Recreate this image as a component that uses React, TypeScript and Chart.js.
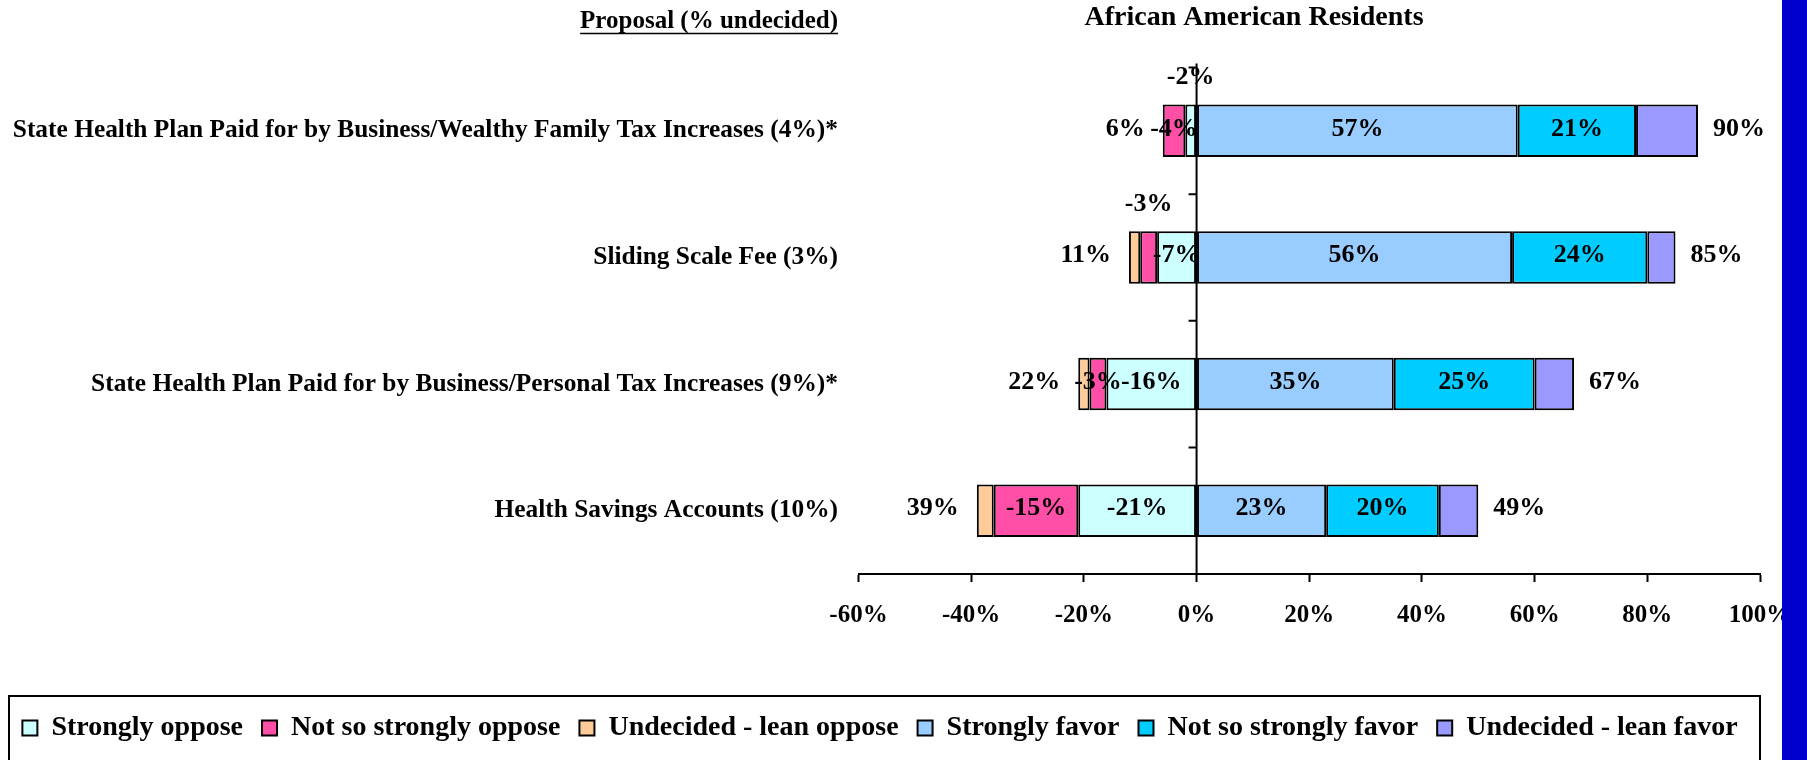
import React, { useEffect, useRef } from 'react';
import { Chart, registerables } from 'chart.js';

Chart.register(...registerables);

// ---------- data ----------
const categories = [
  'State Health Plan Paid for by Business/Wealthy Family Tax Increases (4%)*',
  'Sliding Scale Fee (3%)',
  'State Health Plan Paid for by Business/Personal Tax Increases (9%)*',
  'Health Savings Accounts (10%)',
];
const seriesNames = [
  'Strongly oppose',
  'Not so strongly oppose',
  'Undecided - lean oppose',
  'Strongly favor',
  'Not so strongly favor',
  'Undecided - lean favor',
];
const stronglyOppose = [-2, -7, -16, -21];
const notSoStronglyOppose = [-4, -3, -3, -15];
const leanOppose = [0, -2, -2, -3];
const stronglyFavor = [57, 56, 35, 23];
const notSoStronglyFavor = [21, 24, 25, 20];
const leanFavor = [11, 5, 7, 7];
const opposeTotals = [6, 11, 22, 39];
const favorTotals = [90, 85, 67, 49];
const xTickValues = [-60, -40, -20, 0, 20, 40, 60, 80, 100];
const seriesColors = ['#CCFFFF', '#FF4FA7', '#FFCC99', '#99CCFF', '#00CCFF', '#9999FF'];
// series that carry value labels, and [series,row] labels that sit above the bar
const labeledSeries = [0, 1, 3, 4];
const labelsAbove = [[0, 0], [1, 1]];

const chartTitle = 'African American Residents';
const axisHeading = 'Proposal (% undecided)';

const FONT = '"Liberation Serif", "Times New Roman", serif';

const overlayPlugin = {
  id: 'overlay',
  afterDatasetsDraw(chart: any) {
    const { ctx, chartArea, scales } = chart;
    const xs = scales.x;
    const ys = scales.y;
    const x0 = xs.getPixelForValue(0);
    ctx.save();
    // zero axis line with category tick marks
    ctx.strokeStyle = '#000';
    ctx.lineWidth = 2;
    ctx.beginPath();
    ctx.moveTo(x0, chartArea.top - 4);
    ctx.lineTo(x0, chartArea.bottom);
    for (let k = 0; k < categories.length; k++) {
      const py = ys.getPixelForValue(k - 0.5);
      ctx.moveTo(x0 - 8, py);
      ctx.lineTo(x0, py);
    }
    ctx.stroke();

    // segment labels
    ctx.fillStyle = '#000';
    ctx.font = `bold 26px ${FONT}`;
    ctx.textBaseline = 'middle';
    ctx.textAlign = 'center';
    labeledSeries.forEach((di) => {
      const meta = chart.getDatasetMeta(di);
      const vals = chart.data.datasets[di].data as number[];
      meta.data.forEach((el: any, i: number) => {
        const v = vals[i];
        if (!v) return;
        const above = labelsAbove.some(([d, r]) => d === di && r === i);
        const cx = (el.x + el.base) / 2;
        const cy = above ? el.y - el.height - 1 : el.y - 2;
        ctx.fillText(`${v}%`, cx, cy);
      });
    });

    // totals
    categories.forEach((_, i) => {
      let minX = x0;
      let maxX = x0;
      for (let d = 0; d < 6; d++) {
        const el: any = chart.getDatasetMeta(d).data[i];
        minX = Math.min(minX, el.x, el.base);
        maxX = Math.max(maxX, el.x, el.base);
      }
      const el0: any = chart.getDatasetMeta(0).data[i];
      ctx.textAlign = 'right';
      ctx.fillText(`${opposeTotals[i]}%`, minX - 18, el0.y - 2);
      ctx.textAlign = 'left';
      ctx.fillText(`${favorTotals[i]}%`, maxX + 15, el0.y - 2);
    });
    ctx.restore();
  },
  afterDraw(chart: any) {
    const { ctx, chartArea, scales, legend } = chart;
    ctx.save();
    ctx.fillStyle = '#000';
    ctx.strokeStyle = '#000';
    ctx.textBaseline = 'middle';
    // chart title
    ctx.font = `bold 28px ${FONT}`;
    ctx.textAlign = 'center';
    ctx.fillText(chartTitle, 1254, 18);
    // category heading, underlined
    ctx.font = `bold 25px ${FONT}`;
    ctx.textAlign = 'right';
    const hx = scales.y.right - 20.5;
    ctx.fillText(axisHeading, hx, 22);
    const w = ctx.measureText(axisHeading).width;
    ctx.lineWidth = 1.5;
    ctx.beginPath();
    ctx.moveTo(hx - w, 33.5);
    ctx.lineTo(hx, 33.5);
    ctx.stroke();
    // legend frame
    ctx.lineWidth = 2;
    ctx.strokeRect(legend.left + 9, legend.top + 1, chartArea.right - legend.left - 9, 90);
    ctx.restore();
  },
};

export default function App() {
  const ref = useRef<HTMLCanvasElement | null>(null);
  useEffect(() => {
    if (!ref.current) return;
    const series = [stronglyOppose, notSoStronglyOppose, leanOppose, stronglyFavor, notSoStronglyFavor, leanFavor];
    const chart = new Chart(ref.current, {
      type: 'bar',
      data: {
        labels: categories,
        datasets: series.map((d, i) => ({
          label: seriesNames[i],
          data: d,
          backgroundColor: seriesColors[i],
          borderColor: '#000',
          borderWidth: 2,
          borderSkipped: false,
          barPercentage: 0.415,
          categoryPercentage: 1,
        })),
      },
      options: {
        indexAxis: 'y',
        responsive: false,
        animation: false,
        devicePixelRatio: 1,
        layout: { padding: { left: 0, right: 47, top: 67.5, bottom: 8 } },
        plugins: {
          title: { display: false },
          tooltip: { enabled: false },
          legend: {
            position: 'bottom',
            align: 'center',
            labels: {
              color: '#000',
              font: { family: FONT, size: 28, weight: 'bold' },
              boxWidth: 15,
              boxHeight: 15,
              padding: 19,
            },
          },
        },
        scales: {
          x: {
            stacked: true,
            min: xTickValues[0],
            max: xTickValues[xTickValues.length - 1],
            afterBuildTicks: (s: any) => {
              s.ticks = xTickValues.map((v) => ({ value: v }));
            },
            afterFit: (s: any) => {
              s.height = 121;
              s.paddingLeft = 0;
              s.paddingRight = 0;
            },
            ticks: {
              color: '#000',
              font: { family: FONT, size: 25, weight: 'bold' },
              padding: 19,
              maxRotation: 0,
              autoSkip: false,
              callback: (v: any) => `${v}%`,
            },
            grid: {
              display: true,
              drawOnChartArea: false,
              drawTicks: true,
              tickLength: 8,
              tickColor: '#000',
              tickWidth: 2,
              color: '#000',
            },
            border: { display: true, color: '#000', width: 2 },
          },
          y: {
            stacked: true,
            afterFit: (s: any) => {
              s.width = 858.5;
            },
            ticks: {
              color: '#000',
              font: { family: FONT, size: 25.4, weight: 'bold' },
              padding: 20.5,
              autoSkip: false,
            },
            grid: { display: false, drawTicks: false },
            border: { display: false },
          },
        },
      },
      plugins: [overlayPlugin],
    } as any);
    return () => chart.destroy();
  }, []);

  return (
    <div style={{ position: 'fixed', left: 0, top: 0, width: 1807, height: 760, background: '#fff', overflow: 'hidden' }}>
      <canvas ref={ref} width={1807} height={760} style={{ display: 'block', width: 1807, height: 760 }} />
      <div style={{ position: 'absolute', left: 1782, top: 0, width: 25, height: 760, background: '#0000CC' }} />
    </div>
  );
}
